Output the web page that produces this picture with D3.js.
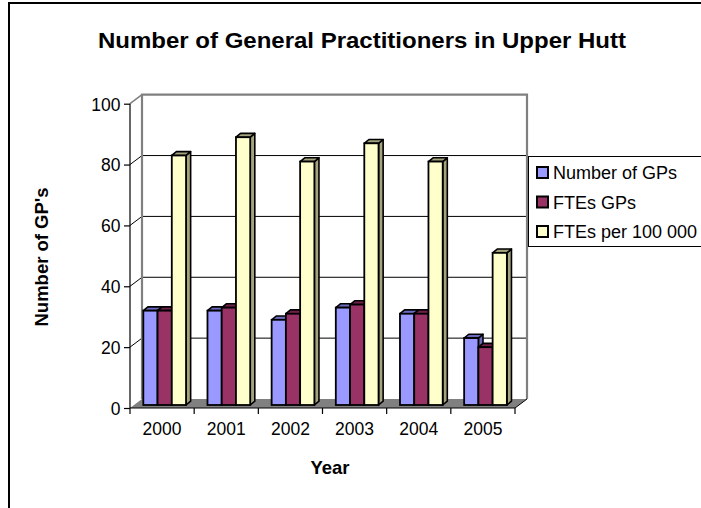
<!DOCTYPE html>
<html>
<head>
<meta charset="utf-8">
<script src="https://cdn.jsdelivr.net/npm/d3@7/dist/d3.min.js"></script>
<style>
  html, body { margin: 0; padding: 0; background: #fff; }
  text { font-family: "Liberation Sans", Arial, sans-serif; }
</style>
</head>
<body>
<svg id="chart" width="701" height="508"></svg>
<script>
const title = "Number of General Practitioners in Upper Hutt";
const yAxisTitle = "Number of GP's";
const xAxisTitle = "Year";
const years = ["2000", "2001", "2002", "2003", "2004", "2005"];
const seriesNames = ["Number of GPs", "FTEs GPs", "FTEs per 100 000"];
const numberOfGPs = [31, 31, 28, 32, 30, 22];
const ftesGPs = [31, 32, 30, 33, 30, 19];
const ftesPer100000 = [82, 88, 80, 86, 80, 50];
const yTicks = [0, 20, 40, 60, 80, 100];
const seriesColors = ["#9999FF", "#993366", "#FFFFCC"];
const seriesShades = ["#6B6BC0", "#6E2249", "#A3A37E"];

const seriesValues = [numberOfGPs, ftesGPs, ftesPer100000];

const svg = d3.select("#chart");

// geometry of the oblique 3D frame
const fx0 = 130, fx1 = 515, fy0 = 408, fy100 = 103.7;
const depth = { dx: 12, dy: -9 };
const barOff = { dx: 4, dy: -3 };
const barDepth = { dx: 4.6, dy: -3.8 };

const x = d3.scaleBand().domain(years).range([fx0, fx1]);
const inner = d3.scaleBand().domain(seriesNames)
  .range([x.bandwidth() * 0.145, x.bandwidth() * 0.811]);
const y = d3.scaleLinear().domain([0, 100]).range([fy0, fy100]);

// outer frame
svg.append("path").attr("d", "M9,508 L9,3 L701,3")
  .attr("fill", "none").attr("stroke", "#000").attr("stroke-width", 2);

// side wall
svg.append("path")
  .attr("d", `M${fx0},${y(0)} L${fx0},${y(100)} L${fx0+depth.dx},${y(100)+depth.dy} L${fx0+depth.dx},${y(0)+depth.dy} Z`)
  .attr("fill", "#fff");

// back wall
const bx0 = fx0 + depth.dx, bx1 = fx1 + depth.dx;
svg.append("rect").attr("x", bx0).attr("y", y(100) + depth.dy)
  .attr("width", bx1 - bx0).attr("height", y(0) - y(100)).attr("fill", "#fff");

// gridlines (side wall + back wall)
yTicks.filter(t => t > 0 && t < 100).forEach(t => {
  svg.append("path")
    .attr("d", `M${fx0},${y(t)} L${bx0},${y(t)+depth.dy} L${bx1},${y(t)+depth.dy}`)
    .attr("fill", "none").attr("stroke", "#000").attr("stroke-width", 1);
});

// back wall borders (gray)
svg.append("path")
  .attr("d", `M${bx0},${y(0)+depth.dy} L${bx0},${y(100)+depth.dy} L${bx1},${y(100)+depth.dy} L${bx1},${y(0)+depth.dy}`)
  .attr("fill", "none").attr("stroke", "#808080").attr("stroke-width", 2.2);
svg.append("path")
  .attr("d", `M${fx0},${y(100)} L${bx0},${y(100)+depth.dy}`)
  .attr("fill", "none").attr("stroke", "#808080").attr("stroke-width", 1.5);

// floor
svg.append("path")
  .attr("d", `M${fx0},${y(0)} L${fx1},${y(0)} L${bx1},${y(0)+depth.dy} L${bx0},${y(0)+depth.dy} Z`)
  .attr("fill", "#808080");
svg.append("path")
  .attr("d", `M${fx1},${y(0)} L${bx1},${y(0)+depth.dy}`)
  .attr("stroke", "#000").attr("stroke-width", 1);

// bars
years.forEach((yr, i) => {
  seriesNames.forEach((s, j) => {
    const v = seriesValues[j][i];
    const bx = x(yr) + inner(s) + barOff.dx;
    const w = inner.bandwidth();
    const yb = y(0) + barOff.dy;
    const yt = y(v) + barOff.dy;
    const g = svg.append("g");
    g.append("path")
      .attr("d", `M${bx+w},${yt} L${bx+w+barDepth.dx},${yt+barDepth.dy} L${bx+w+barDepth.dx},${yb+barDepth.dy} L${bx+w},${yb} Z`)
      .attr("fill", seriesShades[j]).attr("stroke", "#000").attr("stroke-width", 1.6).attr("stroke-linejoin", "round");
    g.append("path")
      .attr("d", `M${bx},${yt} L${bx+barDepth.dx},${yt+barDepth.dy} L${bx+w+barDepth.dx},${yt+barDepth.dy} L${bx+w},${yt} Z`)
      .attr("fill", seriesShades[j]).attr("stroke", "#000").attr("stroke-width", 1.6).attr("stroke-linejoin", "round");
    g.append("rect").attr("x", bx).attr("y", yt).attr("width", w).attr("height", yb - yt)
      .attr("fill", seriesColors[j]).attr("stroke", "#000").attr("stroke-width", 1.8);
  });
});

// y axis
const yAxisG = svg.append("g").attr("transform", `translate(${fx0},0)`)
  .call(d3.axisLeft(y).tickValues(yTicks).tickSize(6).tickPadding(4));
yAxisG.select(".domain").attr("stroke", "#000").attr("stroke-width", 1.2)
  .attr("d", `M0,${y(0)}V${y(100)}`);
yAxisG.selectAll(".tick line").attr("stroke", "#000").attr("stroke-width", 1.2);
yAxisG.selectAll(".tick text").attr("font-size", 17.5).attr("fill", "#000")
  .attr("font-family", "Liberation Sans, Arial, sans-serif").attr("dy", "0.36em").attr("x", -9.5);

// x axis
const xAxisG = svg.append("g").attr("transform", `translate(0,${y(0)})`)
  .call(d3.axisBottom(x).tickSize(0).tickPadding(0));
xAxisG.select(".domain").attr("stroke", "#000").attr("stroke-width", 1.2)
  .attr("d", `M${fx0},0H${fx1}`);
xAxisG.selectAll(".tick text").attr("font-size", 17.5).attr("fill", "#000")
  .attr("font-family", "Liberation Sans, Arial, sans-serif").attr("dy", null).attr("y", 27);
const boundaries = years.map(d => x(d)).concat([fx1]);
xAxisG.selectAll(".bnd").data(boundaries).enter().append("line")
  .attr("x1", d => d).attr("x2", d => d).attr("y1", 0).attr("y2", 6)
  .attr("stroke", "#000").attr("stroke-width", 1.2);

// titles
svg.append("text").attr("x", 362).attr("y", 48).attr("text-anchor", "middle")
  .attr("font-size", 22).attr("font-weight", "bold")
  .attr("textLength", 528).attr("lengthAdjust", "spacingAndGlyphs").text(title);
svg.append("text").attr("transform", "translate(48,257) rotate(-90)").attr("text-anchor", "middle")
  .attr("font-size", 18.5).attr("font-weight", "bold").text(yAxisTitle);
svg.append("text").attr("x", 330).attr("y", 474).attr("text-anchor", "middle")
  .attr("font-size", 18.5).attr("font-weight", "bold").text(xAxisTitle);

// legend
const legend = svg.append("g");
legend.append("rect").attr("x", 528.5).attr("y", 156.5).attr("width", 180).attr("height", 90)
  .attr("fill", "#fff").attr("stroke", "#000").attr("stroke-width", 1);
seriesNames.forEach((s, j) => {
  const cy = 173 + j * 29.5;
  legend.append("rect").attr("x", 537).attr("y", cy - 6).attr("width", 11).attr("height", 11)
    .attr("fill", seriesColors[j]).attr("stroke", "#000").attr("stroke-width", 2);
  legend.append("text").attr("x", 553).attr("y", cy + 6).attr("font-size", 18).text(s);
});
</script>
</body>
</html>
